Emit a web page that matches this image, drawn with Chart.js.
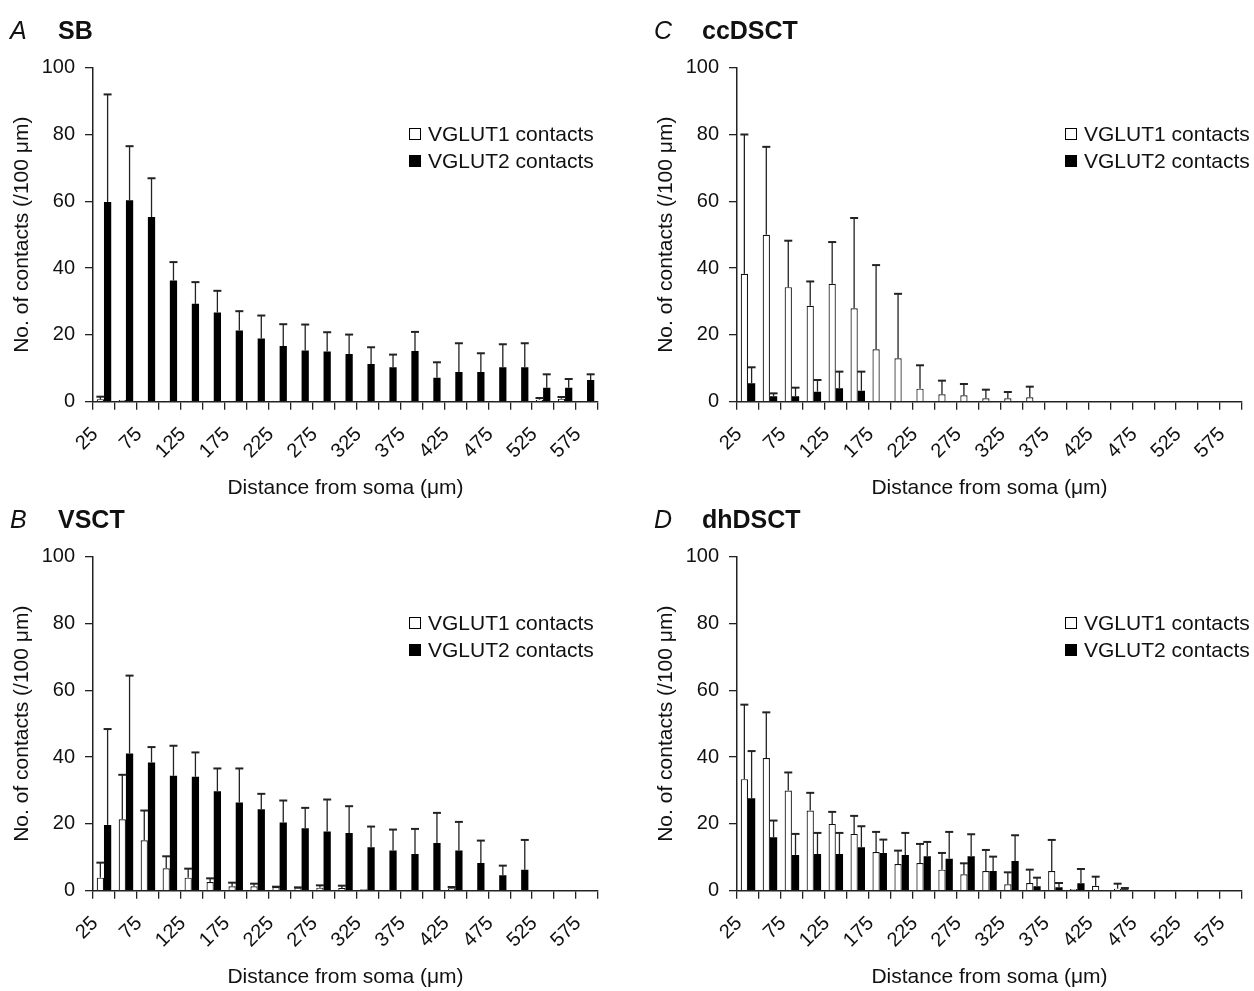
<!DOCTYPE html>
<html>
<head>
<meta charset="utf-8">
<script src="https://cdn.jsdelivr.net/npm/chart.js@4.4.1/dist/chart.umd.min.js"></script>
<style>
    body { margin: 0; background: #fff; width: 1254px; height: 991px; overflow: hidden; position: relative;
           font-family: "Liberation Sans", Arial, sans-serif; color: #111; }
    .panel { position: absolute; width: 610px; height: 502px; }
    .panel canvas { position: absolute; left: 0; top: 0; }
    .plabel { position: absolute; top: 18px; left: 10px; font-size: 25px; line-height: 25px; font-style: italic; }
    .pname { position: absolute; top: 18px; left: 58px; font-size: 25px; line-height: 25px; font-weight: bold; }
    .legend { position: absolute; top: 120px; font-size: 21px; line-height: 27px; }
    .legend div { display: flex; align-items: center; white-space: nowrap; }
    .sw { width: 10px; height: 10px; border: 1px solid #000; margin-right: 7px; }
</style>
</head>
<body>
<script>
// distance bins (um)
const categories = [25, 50, 75, 100, 125, 150, 175, 200, 225, 250, 275, 300, 325, 350, 375, 400, 425, 450, 475, 500, 525, 550, 575];
const yTicks = [0, 20, 40, 60, 80, 100];

// A - SB
const sbV1 = [0.7, 0.5, 0.3, 0.3, 0.3, 0.3, 0.3, 0.3, 0.3, 0.3, 0.3, 0.3, 0.3, 0.3, 0.3, 0.3, 0.3, 0.3, 0.3, 0.3, 0.6, 0.9, 0.2];
const sbV1Err = [0.8, 0, 0, 0, 0, 0, 0, 0, 0, 0, 0, 0, 0, 0, 0, 0, 0, 0, 0, 0, 0.5, 0.5, 0];
const sbV2 = [59.8, 60.3, 55.3, 36.3, 29.3, 26.7, 21.3, 18.9, 16.7, 15.3, 15.0, 14.3, 11.3, 10.3, 15.2, 7.2, 8.9, 8.9, 10.3, 10.3, 4.2, 4.2, 6.5];
const sbV2Err = [32.2, 16.2, 11.6, 5.5, 6.5, 6.5, 5.8, 6.9, 6.5, 7.8, 5.8, 5.8, 5.0, 3.8, 5.7, 4.6, 8.6, 5.6, 6.9, 7.2, 4.0, 2.6, 1.7];

// B - VSCT
const vsV1 = [3.9, 21.4, 15.1, 6.7, 3.9, 2.6, 1.3, 1.3, 1.1, 0.9, 0.9, 0.8, 0.4, 0, 0, 0.2, 0.7, 0, 0, 0, 0, 0, 0];
const vsV1Err = [4.5, 13.3, 8.9, 3.6, 2.7, 1.1, 1.1, 0.8, 0.1, 0.1, 0.7, 0.7, 0, 0, 0, 0, 0.4, 0, 0, 0, 0, 0, 0];
const vsV2 = [19.7, 41.1, 38.4, 34.4, 34.1, 29.8, 26.4, 24.4, 20.4, 18.7, 17.7, 17.3, 13.0, 12.0, 11.0, 14.3, 12.0, 8.3, 4.6, 6.3, 0, 0, 0];
const vsV2Err = [28.7, 23.3, 4.6, 9.0, 7.3, 6.8, 10.2, 4.6, 6.6, 6.1, 9.6, 8.0, 6.2, 6.3, 7.5, 9.0, 8.6, 6.7, 2.9, 8.9, 0, 0, 0];

// C - ccDSCT
const ccV1 = [38.3, 50.0, 34.3, 28.7, 35.3, 28.0, 15.7, 13.0, 3.9, 2.2, 1.9, 1.0, 1.0, 1.3, 0, 0, 0, 0, 0, 0, 0, 0, 0];
const ccV1Err = [41.7, 26.3, 13.9, 7.3, 12.5, 27.0, 25.2, 19.3, 7.0, 4.1, 3.4, 2.6, 1.9, 3.2, 0, 0, 0, 0, 0, 0, 0, 0, 0];
const ccV2 = [5.5, 1.6, 1.6, 3.0, 4.0, 3.3, 0, 0, 0, 0, 0, 0, 0, 0, 0, 0, 0, 0, 0, 0, 0, 0, 0];
const ccV2Err = [4.8, 0.9, 2.6, 3.5, 5.0, 5.7, 0, 0, 0, 0, 0, 0, 0, 0, 0, 0, 0, 0, 0, 0, 0, 0, 0];

// D - dhDSCT
const dhV1 = [33.4, 39.7, 30.0, 24.0, 20.0, 17.0, 11.6, 8.0, 8.3, 6.3, 4.9, 5.9, 1.9, 2.3, 5.9, 0.5, 1.5, 0.6, 0, 0, 0, 0, 0];
const dhV1Err = [22.3, 13.7, 5.4, 5.3, 3.6, 5.4, 6.0, 4.0, 5.7, 5.0, 3.3, 6.3, 3.6, 4.0, 9.3, 0, 2.7, 1.5, 0, 0, 0, 0, 0];
const dhV2 = [27.7, 16.0, 10.7, 11.0, 11.0, 13.0, 11.3, 10.7, 10.3, 9.6, 10.3, 5.9, 8.9, 1.3, 1.0, 2.2, 0, 0.4, 0, 0, 0, 0, 0];
const dhV2Err = [14.1, 5.0, 6.3, 6.3, 6.3, 6.3, 4.0, 6.6, 4.3, 8.0, 6.6, 4.3, 7.7, 2.6, 1.3, 4.3, 0, 0.4, 0, 0, 0, 0, 0];

Chart.defaults.font.family = '"Liberation Sans", Arial, sans-serif';
Chart.defaults.color = '#111';

// upward-only SD bars, drawn from the bar tops through the y scale
const errorBars = {
    id: 'errorBars',
    afterDatasetsDraw(chart) {
        const ctx = chart.ctx;
        const y = chart.scales.y;
        chart.data.datasets.forEach((ds, di) => {
            const meta = chart.getDatasetMeta(di);
            meta.data.forEach((bar, i) => {
                const e = ds.errors[i];
                if (!e) return;
                const top = y.getPixelForValue(ds.data[i] + e);
                ctx.save();
                ctx.strokeStyle = '#222';
                ctx.lineWidth = 1.3;
                ctx.beginPath();
                ctx.moveTo(bar.x, bar.y);
                ctx.lineTo(bar.x, top);
                ctx.stroke();
                ctx.lineWidth = 2;
                ctx.beginPath();
                ctx.moveTo(bar.x - 4, top);
                ctx.lineTo(bar.x + 4, top);
                ctx.stroke();
                ctx.restore();
            });
        });
    }
};

function makePanel(left, top, letter, name, v1, v1Err, v2, v2Err, legendLeft) {
    const panel = document.createElement('div');
    panel.className = 'panel';
    panel.style.left = left + 'px';
    panel.style.top = top + 'px';
    panel.innerHTML = `
        <canvas width="610" height="502"></canvas>
        <div class="plabel">${letter}</div>
        <div class="pname">${name}</div>
        <div class="legend" style="left:${legendLeft}px">
            <div><span class="sw" style="background:#fff"></span>VGLUT1 contacts</div>
            <div><span class="sw" style="background:#000"></span>VGLUT2 contacts</div>
        </div>`;
    document.body.appendChild(panel);

    new Chart(panel.querySelector('canvas'), {
        type: 'bar',
        data: {
            labels: categories,
            datasets: [
                { label: 'VGLUT1 contacts', data: v1, errors: v1Err, backgroundColor: '#fff', borderColor: '#111', borderWidth: 1.2 },
                { label: 'VGLUT2 contacts', data: v2, errors: v2Err, backgroundColor: '#000', borderColor: '#000', borderWidth: 0 }
            ]
        },
        options: {
            responsive: false,
            animation: false,
            categoryPercentage: 0.66,
            barPercentage: 1.0,
            layout: { padding: { top: 67.7, right: 12, left: 0, bottom: 0 } },
            plugins: { legend: { display: false }, tooltip: { enabled: false } },
            scales: {
                x: {
                    offset: true,
                    grid: { offset: true, drawOnChartArea: false, tickLength: 8, color: '#222', lineWidth: 1.3 },
                    border: { color: '#222', width: 1.5 },
                    ticks: {
                        autoSkip: false, minRotation: 45, maxRotation: 45, padding: 13, labelOffset: -9,
                        font: { size: 20 },
                        callback: (v, i) => i % 2 === 0 ? String(categories[i]) : ''
                    },
                    title: { display: true, text: 'Distance from soma (\u03bcm)', font: { size: 21 }, padding: { top: 0, bottom: 1 } },
                    afterFit: s => { s.height = 100.3; s.paddingLeft = 0; s.paddingRight = 0; }
                },
                y: {
                    min: 0, max: 100,
                    afterBuildTicks: s => { s.ticks = yTicks.map(v => ({ value: v })); },
                    grid: { drawOnChartArea: false, tickLength: 8, color: '#222', lineWidth: 1.3 },
                    border: { color: '#222', width: 1.5 },
                    ticks: { padding: 10, font: { size: 20 } },
                    title: { display: true, text: 'No. of contacts (/100 \u03bcm)', font: { size: 21 }, padding: { top: 10, bottom: 0 } },
                    afterFit: s => { s.width = 93; }
                }
            }
        },
        plugins: [errorBars]
    });
}

makePanel(0, 0, 'A', 'SB', sbV1, sbV1Err, sbV2, sbV2Err, 409);
makePanel(644, 0, 'C', 'ccDSCT', ccV1, ccV1Err, ccV2, ccV2Err, 421);
makePanel(0, 489, 'B', 'VSCT', vsV1, vsV1Err, vsV2, vsV2Err, 409);
makePanel(644, 489, 'D', 'dhDSCT', dhV1, dhV1Err, dhV2, dhV2Err, 421);
</script>
</body>
</html>
